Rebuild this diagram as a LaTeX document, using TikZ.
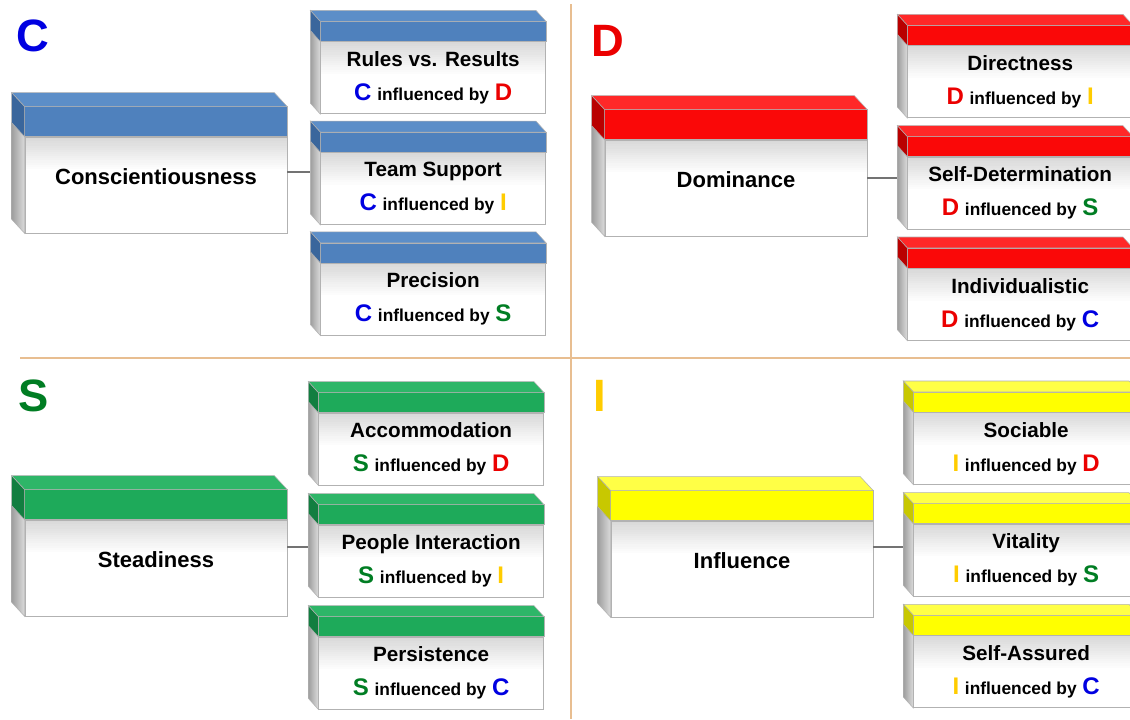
\documentclass[tikz,border=0pt]{standalone}
\usepackage{fontspec}
\setmainfont{Liberation Sans}
\usepackage{tikz}
\usetikzlibrary{calc}
\usetikzlibrary{positioning}

\definecolor{bandC}{RGB}{79,129,189}
\definecolor{bandCtop}{RGB}{92,142,200}
\definecolor{bandCside}{RGB}{58,102,156}
\definecolor{bandD}{RGB}{250,8,8}
\definecolor{bandDtop}{RGB}{255,40,40}
\definecolor{bandDside}{RGB}{185,0,0}
\definecolor{bandS}{RGB}{30,170,90}
\definecolor{bandStop}{RGB}{46,182,104}
\definecolor{bandSside}{RGB}{18,126,64}
\definecolor{bandI}{RGB}{255,255,0}
\definecolor{bandItop}{RGB}{255,255,70}
\definecolor{bandIside}{RGB}{200,200,0}
\definecolor{discC}{RGB}{0,0,225}
\definecolor{discD}{RGB}{235,0,0}
\definecolor{discS}{RGB}{0,125,35}
\definecolor{discI}{RGB}{255,204,0}
\definecolor{divline}{RGB}{232,190,145}

\newcommand{\disc}[1]{{\fontsize{18}{20}\selectfont\textcolor{disc#1}{#1}}}
\newcommand{\infl}[2]{\disc{#1} {\fontsize{13}{16}\selectfont influenced by} \disc{#2}}

\begin{document}
\begin{tikzpicture}[x=0.75pt, y=-0.75pt,
    slab/.style n args={4}{rectangle, draw=black!30, line width=0.5pt, fill=white,
      path picture={\foreach \k [evaluate=\k as \g using 15-\k] in {0,...,14}
        \fill[black!\g] ([yshift=-\k*1.6pt]path picture bounding box.north west)
          rectangle ([yshift=-\k*1.6pt-1.8pt]path picture bounding box.north east);},
      append after command={\pgfextra{
        \fill[#1, draw=black!30] (\tikzlastnode.north west) -- (\tikzlastnode.north east)
          -- ($(\tikzlastnode.north east)+(0,-#4)$) -- ($(\tikzlastnode.north west)+(0,-#4)$) -- cycle;
        \fill[#1top, draw=black!30] ($(\tikzlastnode.north west)+(0,-#4)$) -- ($(\tikzlastnode.north east)+(0,-#4)$)
          -- ($(\tikzlastnode.north east)+(-#2,-#4-#3)$) -- ($(\tikzlastnode.north west)+(-#2,-#4-#3)$) -- cycle;
        \shade[left color=black!38, right color=black!14, draw=black!30] (\tikzlastnode.north west) -- (\tikzlastnode.south west)
          -- ($(\tikzlastnode.south west)+(-#2,-#3)$) -- ($(\tikzlastnode.north west)+(-#2,-#3)$) -- cycle;
        \fill[#1side, draw=black!30] (\tikzlastnode.north west) -- ($(\tikzlastnode.north west)+(0,-#4)$)
          -- ($(\tikzlastnode.north west)+(-#2,-#4-#3)$) -- ($(\tikzlastnode.north west)+(-#2,-#3)$) -- cycle;
      }}},
    mainbox/.style={slab={#1}{13}{14}{30}, minimum width=196.5pt, minimum height=72pt,
      font=\fontsize{16.5}{20}\selectfont\bfseries, text height=12.5pt, text depth=13pt},
    subbox/.style={slab={#1}{10}{11}{20}, minimum width=168.75pt, minimum height=54pt,
      align=center, font=\fontsize{15.5}{25.5}\selectfont\bfseries},
    tag/.style={anchor=west, inner sep=0pt, font=\fontsize{34}{40}\selectfont\bfseries},
    link/.style={draw=black!55, line width=1.5pt},
    divider/.style={draw=divline, line width=1pt}
  ]
  \fill[white] (0,0) rectangle (1130,719);
  \useasboundingbox (0,0) rectangle (1130,719);

  % quadrant lines
  \draw[divider] (571,4) -- (571,719);
  \draw[divider] (20,358) -- (1130,358);

  % C
  \node[tag, text=discC] (tagC) at (16,36) {C};
  \node[mainbox=bandC] (cons) at (156,185) {Conscientiousness};
  \node[subbox=bandC, right=24.75pt of cons, yshift=-2.6pt] (team) {Team Support\\\infl{C}{I}};
  \node[subbox=bandC, above=28.5pt of team] (rules) {Rules vs. Results\\\infl{C}{D}};
  \node[subbox=bandC, below=28.5pt of team] (precision) {Precision\\\infl{C}{S}};
  \draw[link] ($(cons.east)+(0,-13)$) -- ($(cons.east -| team.west)+(-10,-13)$);

  % D
  \node[tag, text=discD] (tagD) at (591,41) {D};
  \node[mainbox=bandD] (dom) at (736,188) {Dominance};
  \node[subbox=bandD, right=30pt of dom, yshift=-3.75pt] (selfdet) {Self-Determination\\\infl{D}{S}};
  \node[subbox=bandD, above=29pt of selfdet] (direct) {Directness\\\infl{D}{I}};
  \node[subbox=bandD, below=29pt of selfdet] (indiv) {Individualistic\\\infl{D}{C}};
  \draw[link] ($(dom.east)+(0,-10)$) -- ($(dom.east -| selfdet.west)+(-10,-10)$);

  % S
  \node[tag, text=discS] (tagS) at (18,396) {S};
  \node[mainbox=bandS] (steady) at (156,568) {Steadiness};
  \node[subbox=bandS, right=23.25pt of steady, yshift=5.25pt] (people) {People Interaction\\\infl{S}{I}};
  \node[subbox=bandS, above=29.5pt of people] (accom) {Accommodation\\\infl{S}{D}};
  \node[subbox=bandS, below=29.5pt of people] (persist) {Persistence\\\infl{S}{C}};
  \draw[link] ($(steady.east)+(0,-21)$) -- ($(steady.east -| people.west)+(-10,-21)$);

  % I
  \node[tag, text=discI] (tagI) at (593,396) {I};
  \node[mainbox=bandI] (influ) at (742,569) {Influence};
  \node[subbox=bandI, right=30pt of influ, yshift=6.75pt] (vital) {Vitality\\\infl{I}{S}};
  \node[subbox=bandI, above=29.25pt of vital] (sociable) {Sociable\\\infl{I}{D}};
  \node[subbox=bandI, below=29.25pt of vital] (assured) {Self-Assured\\\infl{I}{C}};
  \draw[link] ($(influ.east)+(0,-22)$) -- ($(influ.east -| vital.west)+(-10,-22)$);
\end{tikzpicture}
\end{document}
